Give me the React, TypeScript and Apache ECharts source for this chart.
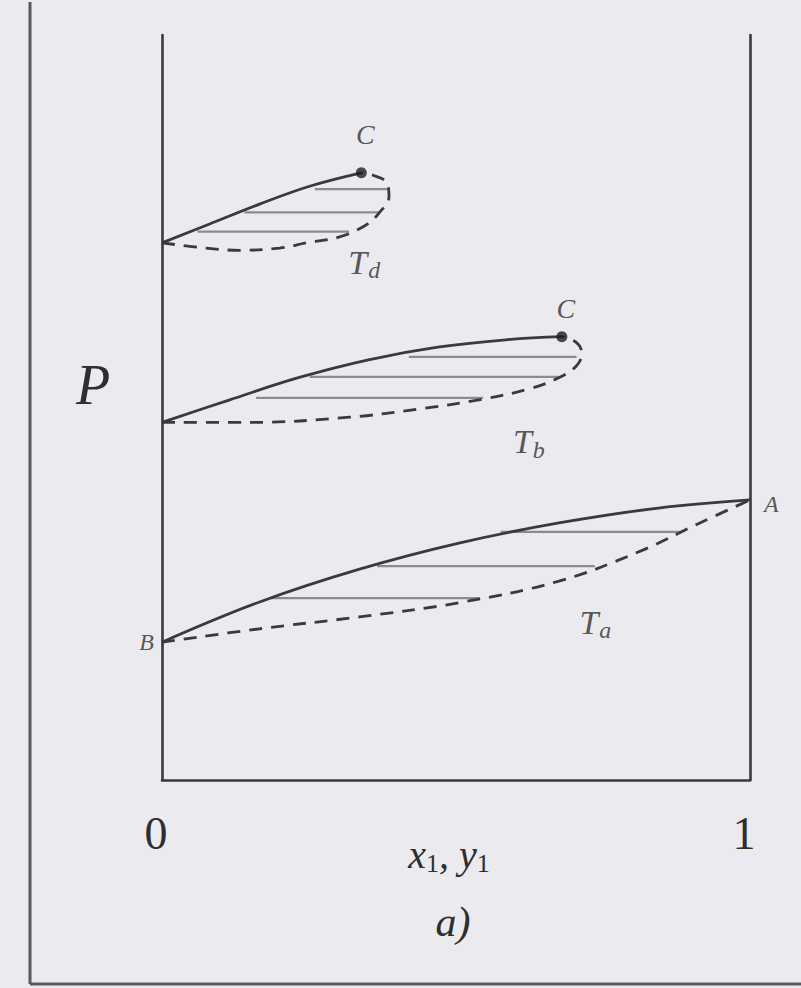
import React, { useEffect, useRef } from "react";
import * as echarts from "echarts";

// Isotherms of a binary mixture on a P–x,y diagram.
// Each isotherm: bubble-point curve (liquid, solid) and dew-point curve (vapour, dashed).
// Points are [mole fraction of component 1, pressure in arbitrary units 0..10].

const tdLiquid = [
  [0, 7.21], [0.08, 7.46], [0.166, 7.73], [0.251, 7.97], [0.339, 8.15],
];
const tdVapor = [
  [0, 7.21], [0.075, 7.14], [0.132, 7.11], [0.2, 7.14], [0.246, 7.21],
  [0.302, 7.29], [0.347, 7.45], [0.369, 7.61], [0.386, 7.83], [0.383, 8.01],
  [0.358, 8.12], [0.339, 8.15],
];
const tdTies = [
  [0.06, 0.318, 7.36],
  [0.14, 0.371, 7.62],
  [0.26, 0.386, 7.93],
];

const tbLiquid = [
  [0, 4.8], [0.114, 5.1], [0.232, 5.4], [0.351, 5.64], [0.469, 5.81],
  [0.588, 5.91], [0.68, 5.95],
];
const tbVapor = [
  [0, 4.8], [0.149, 4.8], [0.319, 4.87], [0.437, 4.98], [0.544, 5.11],
  [0.624, 5.25], [0.675, 5.4], [0.705, 5.56], [0.714, 5.73], [0.705, 5.87],
  [0.68, 5.95],
];
const tbTies = [
  [0.16, 0.546, 5.13],
  [0.251, 0.675, 5.41],
  [0.42, 0.705, 5.68],
];

const taLiquid = [
  [0, 1.85], [0.166, 2.39], [0.336, 2.83], [0.505, 3.18], [0.675, 3.45],
  [0.844, 3.65], [1, 3.76],
];
const taVapor = [
  [0, 1.85], [0.166, 2.03], [0.336, 2.19], [0.505, 2.38], [0.675, 2.67],
  [0.81, 3.06], [0.912, 3.44], [1, 3.76],
];
const taTies = [
  [0.185, 0.54, 2.44],
  [0.366, 0.736, 2.87],
  [0.576, 0.882, 3.33],
];

// Critical points C of the two supercritical isotherms
const criticalPoints = [
  [0.339, 8.15],
  [0.68, 5.95],
];
// Pure-component vapour pressures
const pointA = [1, 3.76];
const pointB = [0, 1.85];

// Isotherm names: [x, P, temperature subscript]
const isothermLabels = [
  [0.344, 6.95, "d"],
  [0.624, 4.54, "b"],
  [0.737, 2.12, "a"],
];

const xTicks = ["0", "1"];

const FONT = '"Liberation Serif", "Times New Roman", serif';
const INK = "#2e2e2e";
const CURVE = "#3a3a3a";
const TIE = "#8c8c8c";
const BG = "#ebeaef";

function curve(data: number[][], dashed: boolean) {
  return {
    type: "line",
    data,
    smooth: 0.4,
    showSymbol: false,
    symbol: "none",
    silent: true,
    lineStyle: {
      color: CURVE,
      width: 2.8,
      type: dashed ? [13, 9] : "solid",
    },
    z: 3,
  };
}

function ties(rows: number[][]) {
  return rows.map((r) => ({
    type: "line",
    data: [
      [r[0], r[2]],
      [r[1], r[2]],
    ],
    showSymbol: false,
    symbol: "none",
    silent: true,
    lineStyle: { color: TIE, width: 2.2 },
    z: 2,
  }));
}

export default function App() {
  const ref = useRef<HTMLDivElement>(null);

  useEffect(() => {
    document.body.style.margin = "0";
    if (!ref.current) return;
    const chart = echarts.init(ref.current, undefined, { renderer: "svg" });

    const labelRich = {
      t: { fontFamily: FONT, fontStyle: "italic", fontSize: 34, color: INK },
      s: {
        fontFamily: FONT,
        fontStyle: "italic",
        fontSize: 24,
        color: INK,
        padding: [16, 0, 0, 1],
      },
    };

    const axisLine = { show: true, lineStyle: { color: "#3a3a3a", width: 2.6 } };

    chart.setOption({
      animation: false,
      backgroundColor: BG,
      grid: { left: 162, right: 51, top: 35, bottom: 208, containLabel: false },
      xAxis: {
        type: "value",
        min: 0,
        max: 1,
        interval: 1,
        axisLine,
        axisTick: { show: false },
        splitLine: { show: false },
        axisLabel: {
          margin: 30,
          fontFamily: FONT,
          fontSize: 46,
          color: INK,
          padding: [0, 12, 0, 0],
          formatter: (v: number) => xTicks[v] ?? "",
        },
        name: "{i|x}{s|1}{i|, y}{s|1}",
        nameLocation: "middle",
        nameGap: 52,
        nameMoveOverlap: false,
        nameTextStyle: {
          padding: [0, 14, 0, 0],
          rich: {
            i: { fontFamily: FONT, fontStyle: "italic", fontSize: 40, color: INK },
            s: { fontFamily: FONT, fontSize: 26, color: INK, padding: [18, 0, 0, 0] },
          },
        },
      },
      yAxis: [
        {
          type: "value",
          min: 0,
          max: 10,
          position: "left",
          axisLine,
          axisTick: { show: false },
          axisLabel: { show: false },
          splitLine: { show: false },
        },
        {
          type: "value",
          min: 0,
          max: 10,
          position: "right",
          axisLine,
          axisTick: { show: false },
          axisLabel: { show: false },
          splitLine: { show: false },
        },
      ],
      graphic: [
        // page frame
        {
          type: "line",
          shape: { x1: 30, y1: 2, x2: 30, y2: 984 },
          style: { stroke: "#5a5a5a", lineWidth: 3 },
          silent: true,
        },
        {
          type: "line",
          shape: { x1: 30, y1: 984, x2: 801, y2: 984 },
          style: { stroke: "#5a5a5a", lineWidth: 3 },
          silent: true,
        },
        {
          type: "text",
          x: 93,
          y: 385,
          style: {
            text: "P",
            font: `italic 56px ${FONT}`,
            fill: INK,
            align: "center",
            verticalAlign: "middle",
          },
          silent: true,
        },
        {
          type: "text",
          x: 453,
          y: 922,
          style: {
            text: "a)",
            font: `italic 42px ${FONT}`,
            fill: INK,
            align: "center",
            verticalAlign: "middle",
          },
          silent: true,
        },
      ],
      series: [
        curve(tdLiquid, false),
        curve(tdVapor, true),
        ...ties(tdTies),
        curve(tbLiquid, false),
        curve(tbVapor, true),
        ...ties(tbTies),
        curve(taLiquid, false),
        curve(taVapor, true),
        ...ties(taTies),
        {
          type: "scatter",
          symbol: "circle",
          symbolSize: 11,
          itemStyle: { color: "#1e1e1e" },
          silent: true,
          z: 5,
          data: criticalPoints.map((p, i) => ({
            value: p,
            label: {
              show: true,
              formatter: "C",
              position: "top",
              distance: i === 0 ? 19 : 9,
              offset: [4, 0],
              fontFamily: FONT,
              fontStyle: "italic",
              fontSize: 28,
              color: INK,
            },
          })),
        },
        {
          type: "scatter",
          symbolSize: 0,
          silent: true,
          z: 5,
          data: [
            {
              value: pointA,
              label: {
                show: true,
                formatter: "A",
                position: "right",
                distance: 14,
                offset: [0, 4],
                fontFamily: FONT,
                fontStyle: "italic",
                fontSize: 24,
                color: INK,
              },
            },
            {
              value: pointB,
              label: {
                show: true,
                formatter: "B",
                position: "left",
                distance: 8,
                fontFamily: FONT,
                fontStyle: "italic",
                fontSize: 24,
                color: INK,
              },
            },
            ...isothermLabels.map((l) => ({
              value: [l[0], l[1]],
              label: {
                show: true,
                position: "inside",
                formatter: `{t|T}{s|${l[2]}}`,
                rich: labelRich,
              },
            })),
          ],
        },
      ],
    });

    return () => chart.dispose();
  }, []);

  return <div ref={ref} style={{ width: 801, height: 988, background: BG }} />;
}
